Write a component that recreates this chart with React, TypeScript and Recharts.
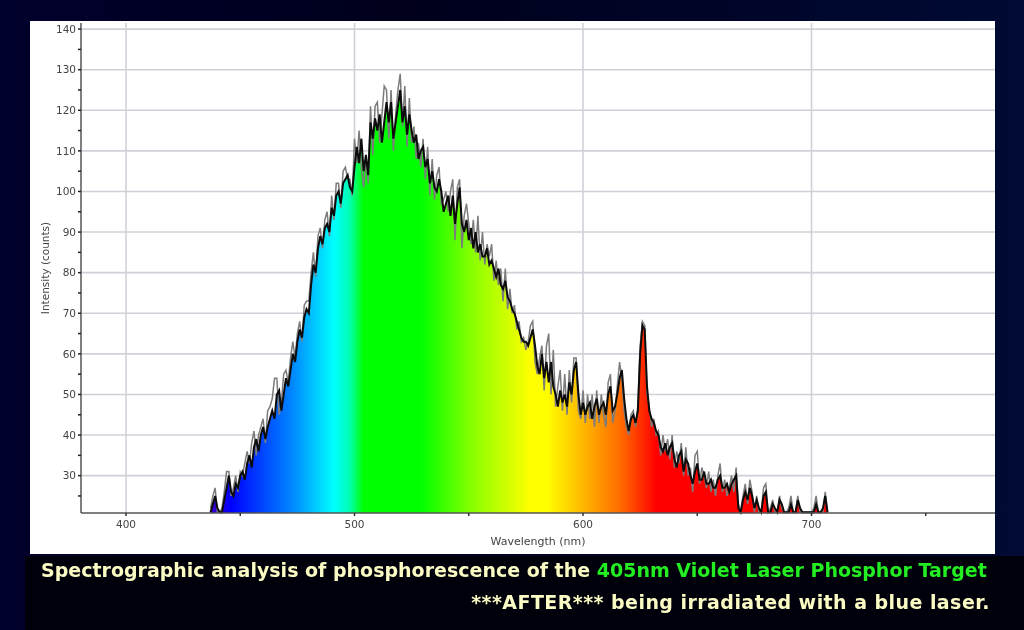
import { ComposedChart, Area, Line, XAxis, YAxis, CartesianGrid } from "recharts";

const firstNm = 437;

// black trace, one value per nm
const counts = [
  21, 23, 25,
  22, 21, 21, 24, 27, 30, 26, 25, 28, 27,
  30, 31, 29, 33, 35, 32, 37, 39, 36, 40,
  42, 39, 42, 44, 46, 44, 50, 51, 46, 50,
  54, 52, 56, 60, 58, 63, 66, 64, 69, 71,
  70, 77, 82, 80, 86, 89, 87, 91, 92, 90,
  96, 94, 99, 100, 97, 102, 103, 104, 101, 100,
  106, 111, 107, 113, 105, 109, 104, 117, 113, 118,
  115, 119, 112, 117, 122, 117, 122, 113, 117, 121,
  125, 117, 121, 114, 119, 115, 112, 114, 108, 110,
  111, 106, 108, 102, 105, 101, 100, 103, 100, 95,
  97, 99, 94, 99, 92, 97, 101, 92, 90, 93,
  88, 91, 86, 90, 85, 87, 84, 84, 86, 82,
  83, 81, 79, 81, 77, 76, 78, 74, 73, 71,
  70, 68, 66, 64, 63, 63, 62, 64, 66, 62,
  57, 55, 60, 54, 58, 53, 58, 52, 50, 47,
  51, 48, 50, 47, 53, 50, 56, 58, 50, 45,
  48, 45, 47, 48, 44, 47, 49, 45, 47, 48,
  45, 50, 52, 46, 47, 50, 54, 56, 49, 44,
  41, 44, 45, 43, 46, 60, 67, 66, 52, 46,
  44, 43, 41, 40, 37, 36, 38, 35, 37, 38,
  34, 32, 35, 36, 31, 34, 33, 30, 28, 31,
  33, 29, 29, 31, 28, 28, 29, 27, 27, 29,
  30, 27, 27, 28, 26, 28, 29, 30, 22, 21,
  24, 26, 24, 27, 25, 22, 24, 22, 21, 25,
  26, 21, 21, 23, 22, 21, 24, 23, 21, 21,
  21, 23, 21, 21, 24, 22, 21, 21, 21, 21,
  21, 21, 23, 21, 21, 22, 25, 21,
];

// lighter trace that pokes out above and below the black one
const greyTrace = [
  22, 25, 27,
  21, 21, 22, 26, 31, 31, 25, 27, 30, 26,
  31, 30, 33, 36, 33, 38, 41, 35, 40, 42,
  44, 38, 46, 47, 49, 54, 54, 45, 48, 55,
  56, 53, 59, 63, 59, 65, 68, 63, 72, 73,
  73, 80, 85, 79, 89, 91, 86, 93, 95, 89,
  99, 93, 102, 102, 96, 105, 106, 103, 103, 99,
  113, 107, 115, 106, 101, 108, 102, 121, 109, 121,
  122, 112, 119, 126, 125, 113, 125, 110, 119, 125,
  129, 116, 126, 111, 123, 112, 116, 108, 112, 106,
  113, 103, 111, 99, 108, 98, 104, 106, 97, 98,
  100, 95, 100, 103, 88, 101, 103, 86, 94, 97,
  92, 87, 93, 85, 94, 83, 90, 82, 87, 84,
  87, 78, 83, 77, 81, 73, 81, 71, 76, 70,
  72, 66, 68, 63, 64, 61, 63, 67, 68, 58,
  55, 59, 62, 51, 62, 65, 50, 61, 47, 52,
  56, 46, 55, 45, 56, 48, 59, 59, 46, 44,
  51, 43, 50, 44, 50, 42, 51, 43, 50, 45,
  42, 53, 55, 43, 46, 52, 58, 54, 46, 42,
  40, 45, 46, 42, 47, 62, 68, 67, 50, 47,
  42, 44, 40, 41, 35, 40, 36, 39, 34, 40,
  32, 36, 33, 38, 30, 37, 30, 32, 26, 35,
  36, 28, 32, 30, 27, 31, 26, 29, 25, 30,
  33, 26, 29, 25, 27, 30, 26, 32, 23, 21,
  25, 28, 23, 29, 26, 21, 25, 21, 21, 27,
  28, 21, 22, 24, 21, 21, 25, 22, 21, 21,
  22, 25, 21, 21, 25, 21, 21, 21, 21, 21,
  21, 22, 25, 21, 21, 21, 26, 21,
];

const xTicks = [400, 450, 500, 550, 600, 650, 700, 750];
const xLabels = [400, 500, 600, 700];
const yTicks = [25, 30, 35, 40, 45, 50, 55, 60, 65, 70, 75, 80, 85, 90, 95, 100, 105, 110, 115, 120, 125, 130, 135, 140];
const yGrid = [30, 40, 50, 60, 70, 80, 90, 100, 110, 120, 130, 140];

// nm -> colour of the visible spectrum fill
const spectrum: [number, string][] = [
  [437, "#3a00c8"],
  [446, "#0000ff"],
  [473, "#0088ff"],
  [491, "#00ffff"],
  [498, "#00ffb0"],
  [504, "#00ff00"],
  [529, "#00ff00"],
  [553, "#90ff00"],
  [577, "#ffff00"],
  [584, "#ffff00"],
  [600, "#ffb800"],
  [617, "#ff6800"],
  [632, "#ff0000"],
  [710, "#ff0000"],
];

const xMin = 380.3;
const xMax = 780.3;
const data = counts.map((c, i) => ({ nm: firstNm + i, counts: c, grey: greyTrace[i] }));

const axisFont = { fontFamily: "'DejaVu Sans'", fontSize: 10.5, fill: "#444" };
const captionStyle = {
  position: "absolute",
  fontFamily: "'DejaVu Sans'",
  fontWeight: 700,
  fontSize: 19,
  lineHeight: "24px",
  whiteSpace: "nowrap",
  color: "#fbfbc4",
  filter: "blur(0.6px)",
} as const;

export default function App() {
  return (
    <div
      style={{
        position: "absolute",
        left: 0,
        top: 0,
        width: 1024,
        height: 630,
        overflow: "hidden",
        background: "linear-gradient(90deg, #00002c 0%, #00001c 40%, #000a34 100%)",
      }}
    >
      <div style={{ position: "absolute", left: 25, top: 556, width: 999, height: 74, background: "#00000a" }} />
      <div style={{ position: "absolute", left: 30, top: 21, width: 965, height: 533, background: "#fff", filter: "blur(0.6px)" }}>
        <ComposedChart width={965} height={533} data={data} margin={{ top: 2, right: 0, bottom: 0, left: 0 }}>
          <defs>
            <linearGradient id="spectrumFill" x1="0" y1="0" x2="1" y2="0">
              {spectrum.map(([nm, colour]) => (
                <stop key={nm} offset={(nm - firstNm) / (counts.length - 1)} stopColor={colour} />
              ))}
            </linearGradient>
          </defs>
          <CartesianGrid stroke="#d0d0d8" strokeWidth={1.6} horizontalValues={yGrid} verticalValues={xLabels} />
          <XAxis
            dataKey="nm"
            type="number"
            domain={[xMin, xMax]}
            ticks={xTicks}
            interval={0}
            height={41}
            tick={axisFont}
            tickSize={3}
            tickMargin={5}
            tickLine={{ stroke: "#333", strokeWidth: 1.5 }}
            axisLine={{ stroke: "#555", strokeWidth: 1.5 }}
            tickFormatter={(v: number) => (xLabels.includes(v) ? String(v) : "")}
            label={{ value: "Wavelength (nm)", position: "insideBottom", offset: 9, style: { ...axisFont, fontSize: 11 } }}
          />
          <YAxis
            type="number"
            domain={[20.8, 141.5]}
            ticks={yTicks}
            interval={0}
            width={51}
            tick={axisFont}
            tickSize={3}
            tickLine={{ stroke: "#222", strokeWidth: 1.5 }}
            axisLine={{ stroke: "#555", strokeWidth: 1.5 }}
            tickFormatter={(v: number) => (yGrid.includes(v) ? String(v) : "")}
            label={{ value: "Intensity (counts)", angle: -90, position: "insideLeft", offset: 15, style: { ...axisFont, textAnchor: "middle" } }}
          />
          <Area dataKey="counts" type="linear" stroke="none" fill="url(#spectrumFill)" fillOpacity={1} isAnimationActive={false} />
          <Line dataKey="grey" type="linear" stroke="#7c7c7c" strokeWidth={1.5} dot={false} isAnimationActive={false} />
          <Line dataKey="counts" type="linear" stroke="#0c0c0c" strokeWidth={2} dot={false} isAnimationActive={false} />
        </ComposedChart>
      </div>
      <div style={{ ...captionStyle, left: 41, top: 558 }}>
        Spectrographic analysis of phosphorescence of the <span style={{ color: "#22ee22" }}>405nm Violet Laser Phosphor Target</span>
      </div>
      <div style={{ ...captionStyle, right: 34, top: 590, letterSpacing: 0.45 }}>
        ***AFTER*** being irradiated with a blue laser.
      </div>
    </div>
  );
}
